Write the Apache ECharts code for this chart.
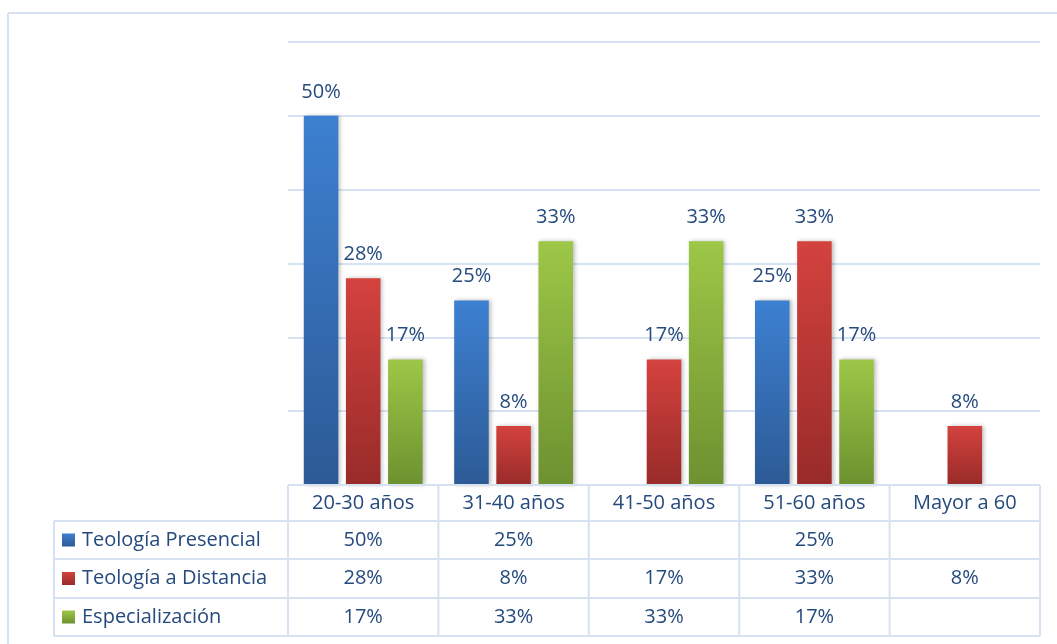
<!DOCTYPE html>
<html><head><meta charset="utf-8">
<script src="https://cdn.jsdelivr.net/npm/echarts@6/dist/echarts.min.js"></script>
<style>html,body{margin:0;padding:0;background:#fff}#c{width:1057px;height:644px}</style>
</head><body><div id="c"></div>
<script>
const categories = ['20-30 años','31-40 años','41-50 años','51-60 años','Mayor a 60'];
const seriesNames = ['Teología Presencial','Teología a Distancia','Especialización'];
const presencial = [50, 25, null, 25, null];
const distancia = [28, 8, 17, 33, 8];
const especializacion = [17, 33, 33, 17, null];
const yTicks = [0, 10, 20, 30, 40, 50, 60];

const txt = '#254a7d';
const lineC = '#d6e2f2';
const font = '"Open Sans", "Noto Sans", sans-serif';
const fs = 20;
const grads = [
  ['#3d80d1','#2c5a95'],
  ['#d4423e','#982b29'],
  ['#9dc747','#6d9130']
];
function grad(i){ return new echarts.graphic.LinearGradient(0,0,0,1,[{offset:0,color:grads[i][0]},{offset:1,color:grads[i][1]}]); }
const values = [presencial, distancia, especializacion];

const chart = echarts.init(document.getElementById('c'), null, {renderer:'canvas'});
const grid = {left:288, right:17, top:42, bottom:159};
chart.setOption({
  animation:false,
  grid: grid,
  xAxis: {type:'category', data:categories, axisLine:{show:false}, axisTick:{show:false}, axisLabel:{show:false}},
  yAxis: {type:'value', min:yTicks[0], max:yTicks[yTicks.length-1], interval:10, axisLabel:{show:false}, axisLine:{show:false}, axisTick:{show:false},
          splitLine:{lineStyle:{color:lineC, width:2}}},
  series: values.map((v,i)=>({
    type:'bar', name:seriesNames[i], data:v, barGap:'22%', barCategoryGap:'21%',
    itemStyle:{color:grad(i), shadowColor:'rgba(0,0,0,0.25)', shadowBlur:4, shadowOffsetX:2, shadowOffsetY:0},
    label:{show:true, position:'top', distance:14, color:txt, fontFamily:font, fontSize:fs, formatter:p=>p.value==null?'':p.value+'%'}
  }))
});

// data table
const x0 = chart.convertToPixel({xAxisIndex:0}, 0);
const x1 = chart.convertToPixel({xAxisIndex:0}, 1);
const band = x1 - x0;
const yBase = chart.convertToPixel({yAxisIndex:0}, 0);
const rowY = [yBase, yBase+36, yBase+74, yBase+113, yBase+151];
const leftX = 54;
const plotL = x0 - band/2;
const plotR = plotL + band*categories.length;
const g = [];
function line(xa,ya,xb,yb){ g.push({type:'line', shape:{x1:xa,y1:ya,x2:xb,y2:yb}, style:{stroke:lineC, lineWidth:2}, z:10}); }
line(plotL, rowY[0], plotR, rowY[0]);
for (let r=1;r<rowY.length;r++) line(leftX, rowY[r], plotR, rowY[r]);
line(leftX, rowY[1], leftX, rowY[4]);
for (let c=0;c<=categories.length;c++) line(plotL+band*c, rowY[0], plotL+band*c, rowY[4]);
// outer border
line(8, 13, 1057, 13);
line(8, 13, 8, 644);
categories.forEach((c,i)=>{
  const cx = chart.convertToPixel({xAxisIndex:0}, i);
  g.push({type:'text', x:cx, y:(rowY[0]+rowY[1])/2, style:{text:c, fill:txt, font:fs+'px '+font, textAlign:'center', textVerticalAlign:'middle'}, z:11});
  values.forEach((v,s)=>{
    if (v[i]!=null) g.push({type:'text', x:cx, y:(rowY[s+1]+rowY[s+2])/2, style:{text:v[i]+'%', fill:txt, font:fs+'px '+font, textAlign:'center', textVerticalAlign:'middle'}, z:11});
  });
});
seriesNames.forEach((n,s)=>{
  const cy = (rowY[s+1]+rowY[s+2])/2;
  g.push({type:'rect', shape:{x:62, y:cy-6.5, width:13, height:13}, style:{fill:grad(s)}, z:11});
  g.push({type:'text', x:82, y:cy, style:{text:n, fill:txt, font:fs+'px '+font, textAlign:'left', textVerticalAlign:'middle'}, z:11});
});
chart.setOption({graphic:g});
</script></body></html>
